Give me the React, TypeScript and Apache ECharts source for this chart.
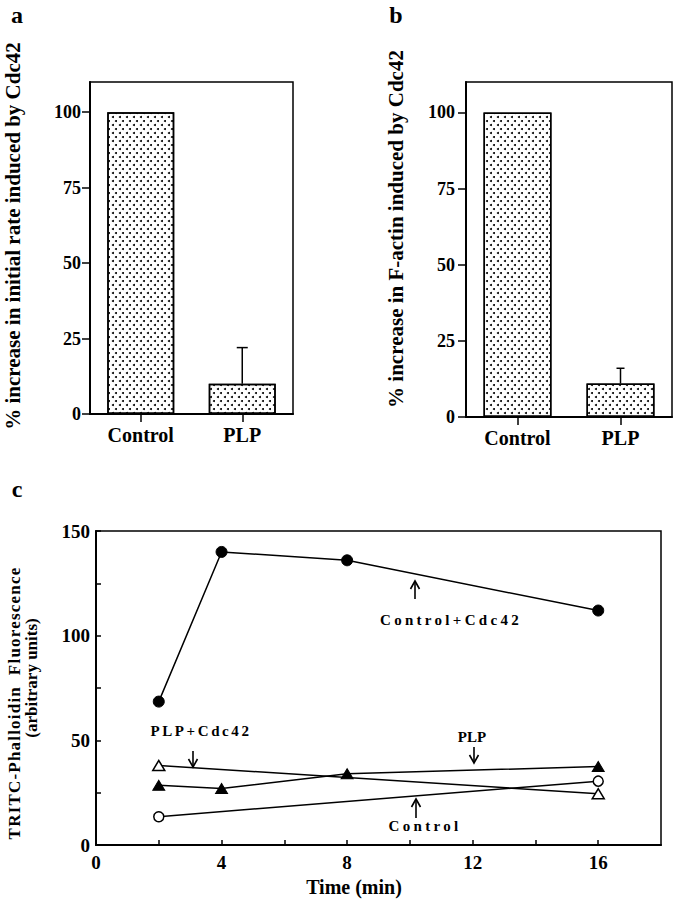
import React, { useEffect, useRef } from 'react';
import * as echarts from 'echarts';

// ---- data ----
const barCategories = ['Control', 'PLP'];
const rateValues = [100, 10];
const rateErrors = [0, 12];
const actinValues = [100, 11];
const actinErrors = [0, 5];
const barTickValues = [0, 25, 50, 75, 100];

const timeControlCdc42 = [2, 4, 8, 16];
const valControlCdc42 = [68.5, 140, 136, 112];
const timePLP = [2, 4, 8, 16];
const valPLP = [28.5, 27, 34, 37.5];
const timePLPCdc42 = [2, 16];
const valPLPCdc42 = [38, 24.5];
const timeControl = [2, 16];
const valControl = [13.5, 30.5];
const timeLabelValues = [0, 4, 8, 12, 16];
const timeTickValues = [0, 2, 4, 6, 8, 10, 12, 14, 16];
const fluorLabelValues = [0, 50, 100, 150];
const fluorTickValues = [0, 25, 50, 75, 100, 125, 150];

const FONT = "'Liberation Serif', 'Times New Roman', serif";

const letterSpacing: Record<string, number> = {
  'Control+Cdc42': 3.3,
  'PLP+Cdc42': 2.6,
  'TRITC-Phalloidin  Fluorescence': 1.2,
};

function zip(xs: number[], ys: number[]) {
  return xs.map((x, i) => [x, ys[i]]);
}

function errRender(capW: number) {
  return (params: any, api: any) => {
    const idx = api.value(0);
    const v = api.value(1);
    const e = api.value(2);
    if (!e) return null;
    const base = api.coord([idx, v]);
    const top = api.coord([idx, v + e]);
    const st = { stroke: '#000', lineWidth: 1.5 };
    return {
      type: 'group',
      children: [
        { type: 'line', shape: { x1: base[0], y1: base[1], x2: base[0], y2: top[1] }, style: st },
        { type: 'line', shape: { x1: top[0] - capW / 2, y1: top[1], x2: top[0] + capW / 2, y2: top[1] }, style: st },
      ],
    };
  };
}

function arrow(x: number, tail: number, head: number) {
  const dir = head < tail ? 1 : -1; // 1 = pointing up
  const st = { stroke: '#000', lineWidth: 1.6, fill: 'none' };
  return {
    type: 'group',
    children: [
      { type: 'line', shape: { x1: x, y1: tail, x2: x, y2: head }, style: st },
      {
        type: 'polyline',
        shape: { points: [[x - 4.5, head + dir * 8], [x, head], [x + 4.5, head + dir * 8]] },
        style: st,
      },
    ],
  };
}

function txt(text: string, x: number, y: number, size: number, rotation = 0) {
  return {
    type: 'text',
    x,
    y,
    rotation,
    style: {
      text,
      fill: '#000',
      fontFamily: FONT,
      fontWeight: 'bold',
      fontSize: size,
      textAlign: 'center',
      textVerticalAlign: 'middle',
      align: 'center',
      verticalAlign: 'middle',
    },
  };
}

const decal = {
  symbol: 'circle',
  symbolSize: 1,
  color: '#000',
  dashArrayX: [[2, 5], [0, 3, 2, 2]],
  dashArrayY: [2, 2],
};

const axisLineStyle = { color: '#000', width: 2 };
const tickStyle = { color: '#000', width: 1.5 };
const labelBase = { color: '#000', fontFamily: FONT, fontWeight: 'bold' };

export default function App() {
  const ref = useRef<HTMLDivElement>(null);

  useEffect(() => {
    document.body.style.margin = '0';
    const el = ref.current!;
    const chart = echarts.init(el, undefined, { renderer: 'svg' });

    const barX = (gi: number) => ({
      gridIndex: gi,
      type: 'category',
      data: barCategories,
      axisLine: { lineStyle: axisLineStyle },
      axisTick: { show: true, alignWithLabel: true, length: 8, lineStyle: tickStyle },
      axisLabel: { ...labelBase, fontSize: 20, margin: 11 },
      splitLine: { show: false },
    });
    const barY = (gi: number, margin: number) => ({
      gridIndex: gi,
      type: 'value',
      min: 0,
      max: 110,
      axisLine: { show: true, lineStyle: axisLineStyle },
      axisTick: { show: true, length: 8, lineStyle: tickStyle, customValues: barTickValues },
      axisLabel: { ...labelBase, fontSize: 18, margin, customValues: barTickValues },
      splitLine: { show: false },
    });
    const barSeries = (gi: number, values: number[]) => ({
      type: 'bar',
      xAxisIndex: gi,
      yAxisIndex: gi,
      data: values,
      barWidth: '66%',
      itemStyle: { color: '#fff', borderColor: '#000', borderWidth: 1.5, decal },
      silent: true,
    });
    const errSeries = (gi: number, values: number[], errs: number[], capW: number) => ({
      type: 'custom',
      xAxisIndex: gi,
      yAxisIndex: gi,
      z: 5,
      data: values.map((v, i) => [i, v, errs[i]]),
      renderItem: errRender(capW),
      silent: true,
    });
    const lineSeries = (xs: number[], ys: number[], symbol: string, size: any, filled: boolean) => ({
      type: 'line',
      xAxisIndex: 2,
      yAxisIndex: 2,
      data: zip(xs, ys),
      symbol,
      symbolSize: size,
      showSymbol: true,
      lineStyle: { color: '#000', width: 1.5 },
      itemStyle: filled
        ? { color: '#000', borderColor: '#000', borderWidth: 1 }
        : { color: '#fff', borderColor: '#000', borderWidth: 1.5 },
      silent: true,
    });

    chart.setOption({
      animation: false,
      backgroundColor: '#fff',
      grid: [
        { left: 90, top: 82, width: 203, height: 332, show: true, borderColor: '#000', borderWidth: 1.5 },
        { left: 466, top: 82, width: 206, height: 335, show: true, borderColor: '#000', borderWidth: 1.5 },
        { left: 96, top: 531, width: 565, height: 314, show: true, borderColor: '#000', borderWidth: 1.5 },
      ],
      xAxis: [
        barX(0),
        barX(1),
        {
          gridIndex: 2,
          type: 'value',
          min: 0,
          max: 18,
          interval: 2,
          axisLine: { lineStyle: axisLineStyle },
          axisTick: { show: true, inside: true, length: 5, lineStyle: tickStyle, customValues: timeTickValues },
          axisLabel: { ...labelBase, fontSize: 19, margin: 8, customValues: timeLabelValues },
          splitLine: { show: false },
        },
      ],
      yAxis: [
        barY(0, 9),
        barY(1, 11),
        {
          gridIndex: 2,
          type: 'value',
          min: 0,
          max: 150,
          interval: 25,
          axisLine: { show: true, lineStyle: axisLineStyle },
          axisTick: { show: true, inside: true, length: 5, lineStyle: tickStyle, customValues: fluorTickValues },
          axisLabel: { ...labelBase, fontSize: 19, margin: 6, customValues: fluorLabelValues },
          splitLine: { show: false },
        },
      ],
      series: [
        barSeries(0, rateValues),
        errSeries(0, rateValues, rateErrors, 11),
        barSeries(1, actinValues),
        errSeries(1, actinValues, actinErrors, 8),
        lineSeries(timeControlCdc42, valControlCdc42, 'circle', 11, true),
        lineSeries(timePLP, valPLP, 'triangle', [12, 10], true),
        lineSeries(timePLPCdc42, valPLPCdc42, 'triangle', [12, 10], false),
        lineSeries(timeControl, valControl, 'circle', 10, false),
      ],
      graphic: [
        txt('a', 17, 15, 24),
        txt('b', 396, 15, 24),
        txt('c', 17, 489, 24),
        txt('% increase in initial rate induced by Cdc42', 13, 236, 21, Math.PI / 2),
        txt('% increase in F-actin induced by Cdc42', 396, 229, 21, Math.PI / 2),
        txt('TRITC-Phalloidin  Fluorescence', 14, 703, 17, Math.PI / 2),
        txt('(arbitrary units)', 31, 678, 17, Math.PI / 2),
        txt('Time (min)', 354, 887, 20),
        txt('Control+Cdc42', 451, 620, 15),
        txt('PLP+Cdc42', 201, 731, 15),
        txt('PLP', 472, 737, 15),
        txt('Control', 425, 826, 15),
        arrow(415, 599, 581),
        arrow(193, 751, 767),
        arrow(474, 747, 763),
        arrow(416, 818, 799),
      ],
    });

    el.querySelectorAll('text').forEach((t) => {
      const content = t.textContent || '';
      const s = letterSpacing[content];
      if (s) t.setAttribute('letter-spacing', String(s));
      if (content === 'Control') {
        const st = t.getAttribute('style') || '';
        if (st.indexOf('15px') >= 0) t.setAttribute('letter-spacing', '3.3');
      }
    });

    return () => chart.dispose();
  }, []);

  return (
    <div
      ref={ref}
      style={{ position: 'absolute', left: 0, top: 0, width: 676, height: 900, background: '#fff' }}
    />
  );
}
